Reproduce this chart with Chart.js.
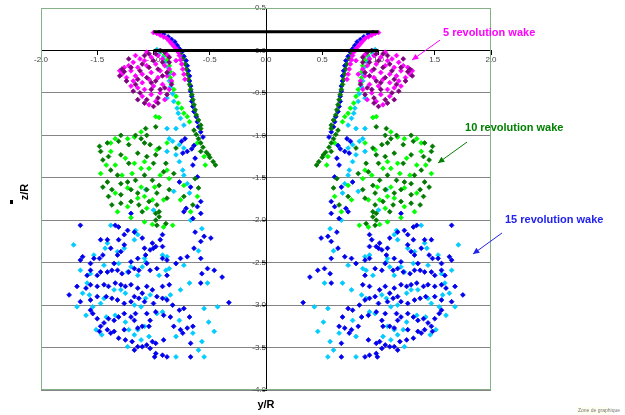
<!DOCTYPE html>
<html>
<head>
<meta charset="utf-8">
<title>Wake positions</title>
<script src="https://cdn.jsdelivr.net/npm/chart.js@4.4.0/dist/chart.umd.min.js"></script>
<style>
  html, body { margin: 0; padding: 0; background: #fff; }
</style>
</head>
<body>
<canvas id="chart" width="625" height="415"></canvas>
<script>
// Axis ticks
const xTicks = [-2, -1.5, -1, -0.5, 0, 0.5, 1, 1.5, 2];
const yTicks = [0.5, 0, -0.5, -1, -1.5, -2, -2.5, -3, -3.5, -4];

// Rotor (black bars), [y/R, z/R]
const rotorTop = [[-1.0, 0.22], [1.0, 0.22]];
const rotorBottom = [[-1.0, 0.0], [1.0, 0.0]];

// Wake points, y/R > 0 side (the wake is mirror symmetric)
const magenta5 = [
  [1.00,0.21],[0.97,0.20],[0.94,0.18],[0.91,0.16],[0.88,0.14],[0.86,0.11],[0.84,0.08],[0.82,0.05],
  [0.80,0.02],[0.78,-0.02],[0.77,-0.06],[0.76,-0.11],[0.75,-0.16],[0.74,-0.22],[0.73,-0.28],[0.72,-0.34],
  [0.88,-0.05],[0.92,-0.10],[0.96,-0.06],[1.02,-0.08],[1.08,-0.12],[1.12,-0.10],[1.18,-0.14],[1.22,-0.18],
  [1.26,-0.20],[1.20,-0.24],[1.14,-0.20],[1.06,-0.18],[0.98,-0.16],[0.90,-0.18],[0.86,-0.22],[0.94,-0.24],
  [1.02,-0.26],[1.10,-0.28],[1.16,-0.30],[1.24,-0.32],[1.28,-0.28],[1.30,-0.24],[1.18,-0.36],[1.10,-0.38],
  [1.04,-0.34],[0.96,-0.32],[0.88,-0.30],[0.84,-0.36],[0.92,-0.40],[1.00,-0.42],[1.08,-0.46],[1.14,-0.44],
  [1.20,-0.42],[0.86,-0.46],[0.94,-0.50],[1.02,-0.52],[1.10,-0.54],[0.90,-0.58],[0.98,-0.60],[1.04,-0.64],
  [0.82,-0.28],[0.80,-0.12],[1.06,-0.02],[1.16,-0.06]
];
const purple5 = [
  [0.90,-0.02],[0.94,0.00],[0.98,-0.04],[0.86,-0.08],[0.92,-0.14],[1.00,-0.12],[1.04,-0.20],[0.88,-0.26],
  [0.96,-0.22],[1.12,-0.24],[1.20,-0.20],[1.26,-0.25],[1.30,-0.30],[1.24,-0.36],[1.14,-0.34],[1.06,-0.32],
  [0.98,-0.36],[0.90,-0.44],[1.02,-0.46],[1.12,-0.50],[1.18,-0.48],[1.06,-0.58],[0.96,-0.56],[1.00,-0.66],
  [1.08,-0.62],[0.84,-0.40],[1.22,-0.10],[1.10,-0.16],[0.94,-0.46],[1.16,-0.40],
  [0.86,-0.14],[0.92,-0.30],[1.02,-0.38],[1.28,-0.22],[1.08,-0.06],[1.14,-0.58],[0.96,-0.62],[0.88,-0.52],
  [1.04,-0.04]
];
const darkGreen10 = [
  [0.76,-0.04],[0.74,-0.10],[0.72,-0.16],[0.71,-0.22],[0.70,-0.28],[0.69,-0.34],[0.68,-0.40],[0.67,-0.46],
  [0.66,-0.52],[0.65,-0.58],[0.64,-0.64],[0.63,-0.70],[0.62,-0.76],[0.60,-0.82],[0.58,-0.88],[0.58,-0.92],
  [0.64,-0.94],[0.62,-0.99],[0.60,-1.04],[0.58,-1.09],[0.56,-1.14],[0.53,-1.20],[0.50,-1.26],[0.47,-1.31],
  [0.45,-1.35],[0.51,-1.23],[0.58,-1.19],
  [0.98,-0.90],[1.07,-0.92],[1.06,-1.00],[1.11,-1.04],[1.16,-1.00],[1.08,-1.09],[1.03,-1.11],[1.29,-1.00],
  [1.31,-1.07],[1.22,-1.11],[1.41,-1.09],[1.48,-1.13],[0.95,-1.15],[0.80,-1.15],
  [0.82,-1.45],[0.91,-1.43],[0.98,-1.23],[1.06,-1.25],[1.14,-1.21],[1.22,-1.33],[1.29,-1.23],[1.40,-1.25],
  [1.47,-1.19],[1.45,-1.29],[1.38,-1.41],[1.32,-1.47],[1.41,-1.55],[1.45,-1.61],[1.29,-1.57],[1.23,-1.55],
  [1.16,-1.53],[1.08,-1.47],[1.01,-1.53],[0.95,-1.59],[1.06,-1.64],[1.14,-1.68],[1.20,-1.64],[1.29,-1.70],
  [1.37,-1.64],[1.40,-1.72],[1.37,-1.82],[1.29,-1.80],[1.20,-1.78],[1.13,-1.82],[1.04,-1.78],[0.97,-1.82],
  [0.95,-1.90],[0.98,-1.92],[1.10,-1.90],[0.88,-1.74],[0.86,-1.64],[0.60,-1.62],[0.63,-1.51],[0.65,-1.82],
  [0.73,-1.72],[1.00,-1.33],[0.89,-1.33],[0.97,-1.68],
  [0.95,-1.96],[0.98,-2.00],[0.89,-2.04],[0.97,-2.06]
];
const green10 = [
  [0.93,-0.01],[0.90,-0.05],[0.88,-0.11],[0.86,-0.18],[0.85,-0.25],[0.85,-0.32],[0.84,-0.38],[0.82,-0.46],
  [0.80,-0.54],[0.78,-0.62],[0.75,-0.68],[0.73,-0.74],[0.70,-0.78],[0.68,-0.84],[0.95,-0.79],[0.98,-0.78],
  [0.61,-1.09],[0.88,-1.09],[1.11,-0.96],[1.17,-1.02],[1.23,-1.04],[1.34,-1.04],[1.38,-1.09],
  [0.54,-1.35],[0.55,-1.25],[0.97,-1.17],[1.08,-1.31],[1.17,-1.33],[1.25,-1.27],[1.34,-1.35],[1.42,-1.35],
  [1.38,-1.19],[1.47,-1.45],[1.28,-1.47],[1.19,-1.45],[1.11,-1.39],[1.04,-1.39],[0.94,-1.47],[0.86,-1.51],
  [0.99,-1.61],[1.11,-1.61],[1.23,-1.62],[1.34,-1.68],[1.14,-1.74],[1.08,-1.72],[1.01,-1.76],[0.91,-1.76],
  [0.76,-1.76],[0.61,-1.72],[0.67,-1.90],[1.23,-1.84],[1.32,-1.90],[1.06,-1.86],[0.73,-1.59],[0.88,-1.41],
  [0.83,-2.06],[0.91,-2.08],[1.01,-2.05],[1.08,-2.02],[1.20,-1.97]
];
const blue15 = [
  [0.95,0.21],[0.91,0.19],[0.87,0.16],[0.84,0.13],[0.81,0.10],[0.79,0.06],[0.77,0.02],[0.75,-0.02],
  [0.73,-0.07],[0.71,-0.12],[0.70,-0.18],[0.69,-0.24],[0.68,-0.30],[0.68,-0.36],[0.67,-0.42],[0.67,-0.48],
  [0.66,-0.54],[0.66,-0.60],[0.65,-0.66],[0.64,-0.72],[0.62,-0.78],[0.61,-0.84],[0.60,-0.90],[0.58,-0.96],
  [0.56,-1.02],[0.72,-1.04],[0.75,-1.07],[0.64,-1.12],[0.66,-1.16],
  [0.70,-1.19],[0.74,-1.21],[0.63,-1.27],[0.65,-1.35],[0.61,-1.49],[0.67,-1.61],[0.77,-1.55],[0.58,-1.78],
  [0.61,-1.84],[0.71,-1.86],[0.73,-1.90],[0.58,-1.92],[1.20,-1.92],
  [1.65,-2.06],[0.65,-1.98],[0.49,-2.21],[0.55,-2.19],[0.58,-2.25],[0.63,-2.14],[0.64,-2.33],[0.58,-2.45],
  [0.70,-2.43],[0.76,-2.45],[0.92,-2.17],[0.94,-2.23],[0.92,-2.31],[0.98,-2.31],[1.00,-2.33],[1.03,-2.35],
  [1.08,-2.33],[1.01,-2.27],[1.10,-2.21],[1.17,-2.14],[1.23,-2.12],[1.26,-2.17],[1.31,-2.08],[1.34,-2.06],
  [1.31,-2.23],[1.26,-2.29],[1.29,-2.37],[1.32,-2.41],[1.38,-2.33],[1.41,-2.23],[1.47,-2.23],[1.45,-2.41],
  [1.48,-2.45],[1.53,-2.45],[1.56,-2.51],[1.65,-2.47],[1.63,-2.43],[1.35,-2.51],[1.20,-2.49],[1.14,-2.45],
  [1.07,-2.41],[1.06,-2.51],[1.03,-2.59],[1.13,-2.59],[1.17,-2.57],[1.22,-2.61],[1.28,-2.63],[1.32,-2.59],
  [1.37,-2.59],[1.41,-2.61],[1.47,-2.61],[1.50,-2.65],[1.56,-2.59],[1.59,-2.65],[0.46,-2.59],[0.52,-2.57],
  [0.57,-2.63],[0.39,-2.67],[0.88,-2.65],[0.97,-2.57],[0.92,-2.45],[0.88,-2.47],[0.80,-2.51],
  [0.33,-2.97],[0.58,-2.74],[0.86,-2.76],[0.92,-2.78],[1.01,-2.82],[1.06,-2.78],[1.10,-2.86],[1.14,-2.80],
  [1.20,-2.76],[1.25,-2.78],[1.29,-2.76],[1.34,-2.74],[1.40,-2.78],[1.44,-2.76],[1.50,-2.78],[1.56,-2.76],
  [1.60,-2.80],[1.68,-2.78],[1.75,-2.88],[1.65,-2.96],[1.56,-2.94],[1.50,-2.90],[1.42,-2.90],[1.37,-2.92],
  [1.32,-2.94],[1.26,-2.98],[1.20,-2.96],[1.17,-2.90],[1.13,-2.92],[1.08,-2.96],[1.00,-2.98],[0.97,-2.90],
  [0.92,-2.92],[0.88,-2.94],[0.83,-3.00],[0.77,-3.06],[0.73,-3.04],[0.68,-3.14],[0.65,-3.25],[0.70,-3.27],
  [0.76,-3.29],[0.74,-3.33],[0.82,-3.25],[0.85,-3.14],[0.91,-3.12],[0.98,-3.08],[1.03,-3.18],[1.06,-3.10],
  [1.10,-3.25],[1.16,-3.10],[1.17,-3.18],[1.20,-3.14],[1.26,-3.10],[1.31,-3.14],[1.35,-3.18],[1.40,-3.16],
  [1.44,-3.21],[1.50,-3.16],[1.54,-3.10],[1.56,-3.06],[1.47,-3.25],[1.41,-3.29],[1.35,-3.31],[1.26,-3.29],
  [1.14,-3.27],[1.04,-3.25],[1.01,-3.43],[0.98,-3.45],[1.06,-3.47],[1.03,-3.51],[1.10,-3.49],[1.14,-3.49],
  [1.19,-3.43],[1.25,-3.41],[1.31,-3.39],[1.38,-3.33],[1.48,-3.31],[0.91,-3.41],[0.67,-3.45],[0.67,-3.61],
  [0.88,-3.61],[0.92,-3.59],[0.98,-3.57],[0.99,-3.61],[1.17,-3.53]
];
const cyan15 = [
  [0.97,0.01],[0.94,-0.02],[0.91,-0.07],[0.89,-0.13],[0.87,-0.20],[0.86,-0.28],[0.86,-0.36],[0.85,-0.43],
  [0.83,-0.51],[0.88,-0.56],[0.82,-0.60],[0.79,-0.68],[0.78,-0.74],[0.76,-0.80],[0.73,-0.88],[0.80,-0.92],
  [0.88,-0.92],[0.86,-1.04],[0.83,-1.07],[0.77,-1.11],[0.73,-1.15],
  [0.80,-1.23],[0.77,-1.31],[0.74,-1.41],[0.73,-1.47],[0.70,-1.57],[0.82,-1.66],[0.68,-1.68],[1.07,-1.64],
  [0.88,-1.19],[1.00,-1.88],
  [0.57,-2.10],[0.67,-2.00],[0.60,-2.36],[0.88,-2.43],[0.92,-2.41],[1.14,-2.17],[1.16,-2.12],[1.17,-2.23],
  [1.26,-2.33],[1.32,-2.37],[1.38,-2.06],[1.41,-2.27],[1.43,-2.33],[1.53,-2.41],[1.71,-2.29],[1.07,-2.49],
  [1.08,-2.45],[1.10,-2.55],[1.20,-2.55],[0.86,-2.57],[0.89,-2.59],[0.73,-2.53],[0.95,-2.65],[1.14,-2.65],
  [1.23,-2.61],[1.31,-2.51],[1.44,-2.53],[1.56,-2.63],[1.65,-2.59],
  [0.52,-2.74],[0.68,-2.74],[0.76,-2.82],[0.85,-2.88],[0.89,-2.92],[1.03,-2.88],[1.07,-2.92],[1.11,-3.02],
  [1.17,-3.00],[1.25,-2.86],[1.29,-2.82],[1.35,-2.82],[1.44,-2.92],[1.47,-2.98],[1.57,-2.88],[1.63,-2.86],
  [1.59,-2.74],[1.54,-3.02],[1.68,-3.02],[1.60,-3.12],[0.43,-3.02],[0.55,-3.04],[0.51,-3.20],[0.46,-3.31],
  [0.57,-3.43],[0.60,-3.53],[0.55,-3.61],[0.80,-3.37],[0.80,-3.61],[0.92,-3.08],[0.97,-3.10],[1.08,-3.25],
  [1.14,-3.29],[1.17,-3.35],[1.22,-3.29],[1.25,-3.20],[1.34,-3.12],[1.42,-3.14],[1.46,-3.35],[1.51,-3.29],
  [1.23,-3.49],[1.11,-3.41],[0.77,-3.18],[0.65,-3.33],[1.04,-3.37]
];

// both sides of the rotor axis
const bothSides = pts => pts.concat(pts.map(([x, z]) => [-x, z])).map(([x, z]) => ({ x, y: z }));
const asPoints = pts => pts.map(([x, z]) => ({ x, y: z }));

function wakeSet(label, pts, color, order) {
    return {
        label,
        data: bothSides(pts),
        pointStyle: 'rectRot',
        pointRadius: 2.4,
        backgroundColor: color,
        borderColor: color,
        borderWidth: 0.8,
        order
    };
}

function rotorSet(pts) {
    return {
        data: asPoints(pts),
        showLine: true,
        borderColor: '#000',
        borderWidth: 3,
        pointRadius: 0,
        order: 0
    };
}

function arrow(ctx, x1, y1, x2, y2, color) {
    ctx.strokeStyle = color;
    ctx.fillStyle = color;
    ctx.lineWidth = 1;
    ctx.beginPath();
    ctx.moveTo(x1, y1);
    ctx.lineTo(x2, y2);
    ctx.stroke();
    const ang = Math.atan2(y2 - y1, x2 - x1);
    ctx.beginPath();
    ctx.moveTo(x2, y2);
    ctx.lineTo(x2 - 7 * Math.cos(ang - 0.45), y2 - 7 * Math.sin(ang - 0.45));
    ctx.lineTo(x2 - 7 * Math.cos(ang + 0.45), y2 - 7 * Math.sin(ang + 0.45));
    ctx.closePath();
    ctx.fill();
}

// Frame, labels and wake notes
const decorations = {
    id: 'decorations',
    afterDraw(chart) {
        const { ctx, chartArea: a, scales } = chart;
        const px = v => scales.x.getPixelForValue(v);
        const py = v => scales.y.getPixelForValue(v);
        ctx.save();

        ctx.strokeStyle = '#86b086';
        ctx.lineWidth = 1;
        ctx.strokeRect(a.left + 0.5, a.top + 0.5, a.right - a.left - 1, a.bottom - a.top - 1);

        ctx.font = 'bold 11px "Liberation Sans", Arial, sans-serif';
        ctx.textBaseline = 'middle';
        ctx.textAlign = 'left';

        ctx.fillStyle = '#ff00ff';
        ctx.fillText('5 revolution wake', px(1.573), py(0.205));
        arrow(ctx, px(1.547), py(0.122), px(1.298), py(-0.113), '#ff00ff');

        ctx.fillStyle = '#008000';
        ctx.fillText('10 revolution wake', px(1.769), py(-0.914));
        arrow(ctx, px(1.787), py(-1.079), px(1.529), py(-1.326), '#008000');

        ctx.fillStyle = '#2222ee';
        ctx.fillText('15 revolution wake', px(2.124), py(-1.998));
        arrow(ctx, px(2.098), py(-2.150), px(1.840), py(-2.398), '#2222ee');

        // axis titles
        ctx.fillStyle = '#000';
        ctx.textAlign = 'center';
        ctx.fillText('y/R', px(0), 405);
        ctx.save();
        ctx.translate(25, 192);
        ctx.rotate(-Math.PI / 2);
        ctx.fillText('z/R', 0, 0);
        ctx.restore();
        ctx.fillRect(10, 200, 3, 4);

        // leftover tooltip box
        ctx.fillStyle = '#fffff0';
        ctx.fillRect(577, 407, 34, 7);
        ctx.fillStyle = '#777';
        ctx.font = '5px "Liberation Sans", Arial, sans-serif';
        ctx.textAlign = 'left';
        ctx.fillText('Zone de graphique', 578, 411);

        ctx.restore();
    }
};

const tickFont = { family: '"Liberation Sans", Arial, sans-serif', size: 8 };

new Chart(document.getElementById('chart'), {
    type: 'scatter',
    data: {
        datasets: [
            rotorSet(rotorTop),
            rotorSet(rotorBottom),
            wakeSet('5 rev', magenta5, '#ff00ff', 2),
            wakeSet('5 rev b', purple5, '#800080', 1),
            wakeSet('10 rev', darkGreen10, '#007a00', 3),
            wakeSet('10 rev b', green10, '#00ff00', 4),
            wakeSet('15 rev', blue15, '#0000ee', 5),
            wakeSet('15 rev b', cyan15, '#00ccff', 6)
        ]
    },
    options: {
        responsive: false,
        animation: false,
        events: [],
        layout: { padding: { left: 41, right: 134, top: 8, bottom: 25 } },
        plugins: { legend: { display: false }, tooltip: { enabled: false } },
        scales: {
            x: {
                type: 'linear',
                position: { y: 0 },
                min: -2,
                max: 2,
                afterBuildTicks: s => { s.ticks = xTicks.map(v => ({ value: v })); },
                grid: { drawOnChartArea: false, drawTicks: true, tickLength: 4, color: '#000' },
                border: { display: true, color: '#000', width: 1 },
                ticks: {
                    color: '#444', font: tickFont, padding: 1, maxRotation: 0, autoSkip: false,
                    callback: v => Number(v).toFixed(1)
                }
            },
            y: {
                type: 'linear',
                position: { x: 0 },
                min: -4,
                max: 0.5,
                afterBuildTicks: s => { s.ticks = yTicks.map(v => ({ value: v })); },
                grid: { color: '#858585', lineWidth: 1, drawTicks: true, tickLength: 4, tickColor: '#000' },
                border: { display: true, color: '#000', width: 1 },
                ticks: {
                    color: '#444', font: tickFont, padding: 2, autoSkip: false,
                    callback: v => Number(v).toFixed(1)
                }
            }
        }
    },
    plugins: [decorations]
});
</script>
</body>
</html>
